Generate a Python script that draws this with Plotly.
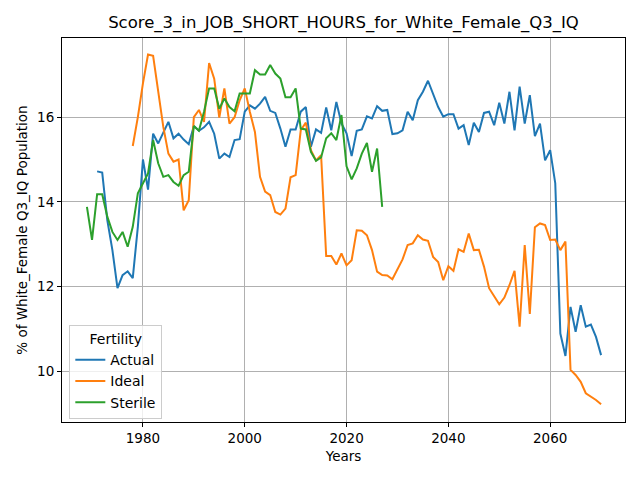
import plotly.graph_objects as go

# yearly values
actual_years = list(range(1971, 2071))
actual = [
    14.72, 14.69, 13.57, 12.86, 11.96, 12.27, 12.36, 12.20, 13.41,  # 1971-1979
    15.00, 14.29, 15.61, 15.38, 15.65, 15.89, 15.50, 15.61, 15.47, 15.36,  # 1980-1989
    15.79, 15.68, 15.76, 15.89, 15.61, 15.02, 15.14, 15.06, 15.46, 15.48,  # 1990-1999
    16.13, 16.28, 16.20, 16.32, 16.48, 16.15, 16.10, 15.73, 15.30, 15.71,  # 2000-2009
    15.71, 16.13, 16.24, 15.30, 15.71, 15.63, 16.23, 15.69, 16.36, 15.85,  # 2010-2019
    15.62, 15.08, 15.68, 15.71, 16.02, 15.97, 16.26, 16.15, 16.17, 15.60,  # 2020-2029
    15.62, 15.69, 16.13, 15.93, 16.40, 16.60, 16.86, 16.56, 16.24, 16.01,  # 2030-2039
    16.07, 16.07, 15.73, 15.81, 15.34, 15.87, 15.65, 16.10, 16.13, 15.81,  # 2040-2049
    16.34, 15.85, 16.60, 15.69, 16.72, 15.85, 16.52, 15.55, 15.85, 14.98,  # 2050-2059
    15.22, 14.44, 10.89, 10.36, 11.52, 10.93, 11.56, 11.05, 11.10, 10.81,  # 2060-2069
    10.38,  # 2070
]

ideal_years = list(range(1978, 2071))
ideal = [
    15.32, 16.00,  # 1978-1979
    16.80, 17.48, 17.45, 16.56, 15.77, 15.14, 14.95, 15.00, 13.80, 14.04,  # 1980-1989
    16.00, 16.17, 15.89, 17.28, 16.91, 15.99, 16.68, 15.85, 16.00, 16.40,  # 1990-1999
    16.68, 16.13, 15.65, 14.59, 14.24, 14.16, 13.76, 13.70, 13.84, 14.58,  # 2000-2009
    14.63, 15.69, 15.87, 15.22, 14.98, 15.10, 12.72, 12.72, 12.52, 12.78,  # 2010-2019
    12.50, 12.62, 13.33, 13.32, 13.21, 12.86, 12.35, 12.27, 12.26, 12.17,  # 2020-2029
    12.39, 12.64, 12.98, 13.02, 13.21, 13.11, 13.08, 12.70, 12.58, 12.15,  # 2030-2039
    12.48, 12.37, 12.88, 12.82, 13.25, 12.86, 12.87, 12.47, 11.96, 11.76,  # 2040-2049
    11.58, 11.74, 12.03, 12.37, 11.05, 12.98, 11.35, 13.40, 13.49, 13.45,  # 2050-2059
    13.10, 13.11, 12.86, 13.06, 10.03, 9.91, 9.75, 9.48, 9.41, 9.32,  # 2060-2069
    9.22,  # 2070
]

sterile_years = list(range(1969, 2028))
sterile = [
    13.88, 13.10, 14.18, 14.18, 13.65, 13.29, 13.10, 13.29, 12.94, 13.41, 14.20,  # 1969-1979
    14.43, 14.67, 15.46, 14.91, 14.59, 14.63, 14.47, 14.38, 14.63, 14.71,  # 1980-1989
    15.79, 15.68, 16.13, 16.68, 16.68, 16.20, 16.44, 16.24, 16.14, 16.56,  # 1990-1999
    16.56, 16.56, 17.11, 17.01, 17.01, 17.23, 17.03, 16.91, 16.47, 16.47,  # 2000-2009
    16.68, 15.73, 15.71, 15.18, 14.97, 15.05, 15.50, 15.62, 15.46, 16.05,  # 2010-2019
    14.84, 14.53, 14.79, 15.14, 15.39, 14.71, 15.26, 13.88,  # 2020-2027
]

x_ticks = [1980, 2000, 2020, 2040, 2060]
y_ticks = [10, 12, 14, 16]

font = "DejaVu Sans"

fig = go.Figure()

for name, xs, ys, color in [
    ("Actual", actual_years, actual, "#1f77b4"),
    ("Ideal", ideal_years, ideal, "#ff7f0e"),
    ("Sterile", sterile_years, sterile, "#2ca02c"),
]:
    fig.add_trace(go.Scatter(x=xs, y=ys, mode="lines", name=name,
                             line=dict(color=color, width=2)))

axis_style = dict(
    showline=True, linecolor="black", linewidth=1, mirror=True,
    showgrid=True, gridcolor="#b0b0b0", gridwidth=1,
    ticks="outside", ticklen=4, tickcolor="black",
    zeroline=False, automargin=False,
    tickfont=dict(family=font, size=13.5, color="black"),
)

# page body adds an 8px offset, so the figure is 8px smaller each way
fig.update_layout(
    width=632, height=472,
    paper_bgcolor="white", plot_bgcolor="white",
    margin=dict(l=54, r=15, t=30, b=58),
    title=dict(text="Score_3_in_JOB_SHORT_HOURS_for_White_Female_Q3_IQ",
               x=0.5, xref="paper", xanchor="center", y=0.969, yanchor="middle",
               font=dict(family=font, size=16.5, color="black")),
    font=dict(family=font, color="black"),
    showlegend=True,
    legend=dict(
        title=dict(text="Fertility", side="top center", font=dict(family=font, size=14)),
        x=0.013, y=0.008, xanchor="left", yanchor="bottom",
        bgcolor="rgba(255,255,255,0.8)", bordercolor="#cccccc", borderwidth=1,
        font=dict(family=font, size=14),
    ),
)
fig.update_xaxes(range=[1964.1, 2074.7], tickvals=x_ticks,
                 title=dict(text="Years", font=dict(family=font, size=13.5), standoff=6),
                 **axis_style)
fig.update_yaxes(range=[8.8, 17.87], tickvals=y_ticks,
                 title=dict(text="% of White_Female Q3_IQ Population",
                            font=dict(family=font, size=13.5), standoff=6),
                 **axis_style)

fig.write_html("out.html")
